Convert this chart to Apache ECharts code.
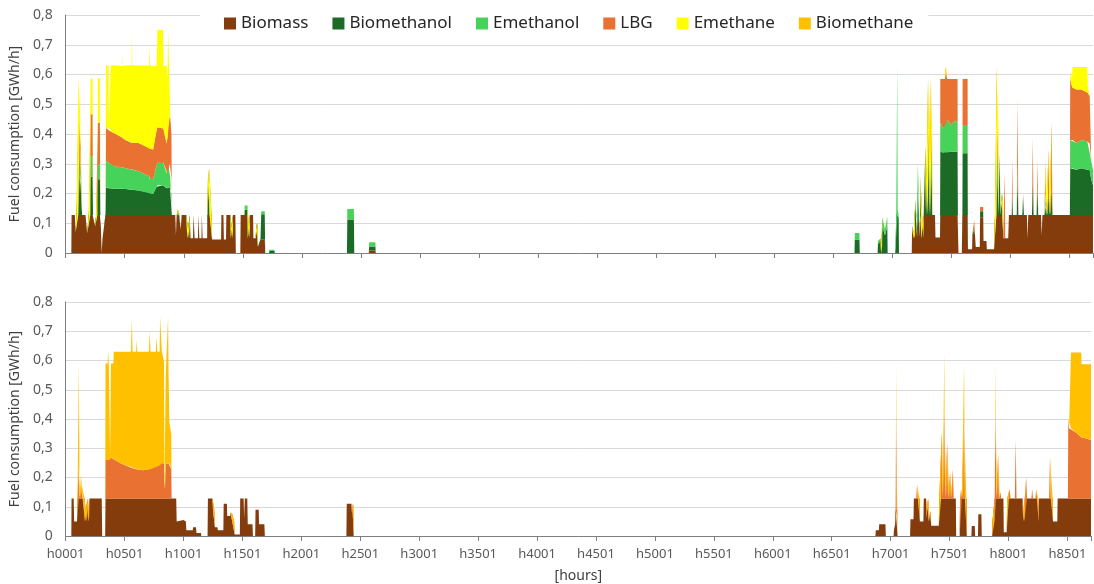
<!DOCTYPE html>
<html>
<head>
<meta charset="utf-8">
<title>Fuel consumption</title>
<script src="https://cdn.jsdelivr.net/npm/echarts@6/dist/echarts.min.js"></script>
<style>
  html, body { margin: 0; padding: 0; background: #fff; }
  #chart { width: 1094px; height: 584px; }
  #warn { position: absolute; left: 300px; top: 120px; color: red; font: 20px sans-serif; }
</style>
</head>
<body>
<div id="chart"></div>
<div id="warn"></div>
<script>
// ---- top chart (hour index, 0 = h0001) ----
const hoursTop = [
  0, 48, 50, 78, 84, 92, 106, 108, 122, 127,
  134, 140, 168, 182, 196, 208, 211, 228, 232, 250,
  258, 264, 268, 273, 290, 294, 298, 305, 312, 325,
  337, 342, 364, 367, 378, 382, 420, 476, 478, 481,
  505, 558, 561, 564, 617, 708, 712, 716, 740, 770,
  777, 825, 828, 855, 862, 868, 882, 886, 896, 899,
  928, 934, 940, 950, 958, 962, 975, 982, 1022, 1030,
  1045, 1050, 1058, 1078, 1083, 1092, 1120, 1124, 1132, 1150,
  1153, 1160, 1198, 1201, 1206, 1216, 1219, 1235, 1240, 1316,
  1319, 1336, 1340, 1358, 1361, 1395, 1399, 1414, 1417, 1437,
  1441, 1479, 1482, 1514, 1516, 1540, 1543, 1557, 1560, 1587,
  1590, 1610, 1614, 1625, 1628, 1650, 1656, 1686, 1690, 1722,
  1725, 1768, 1771, 2382, 2385, 2441, 2444, 2567, 2570, 2623,
  2626, 6680, 6683, 6722, 6725, 6876, 6879, 6902, 6905, 6913,
  6916, 6938, 6958, 6961, 7025, 7028, 7034, 7042, 7046, 7054,
  7057, 7165, 7168, 7180, 7190, 7196, 7204, 7210, 7216, 7222,
  7232, 7238, 7246, 7262, 7266, 7280, 7286, 7300, 7303, 7312,
  7315, 7324, 7327, 7336, 7339, 7362, 7366, 7404, 7407, 7430,
  7447, 7450, 7462, 7465, 7500, 7530, 7553, 7556, 7561, 7589,
  7594, 7596, 7638, 7641, 7676, 7679, 7694, 7700, 7707, 7741,
  7744, 7770, 7773, 7798, 7801, 7862, 7870, 7882, 7885, 7896,
  7899, 7910, 7916, 7925, 7935, 7940, 7952, 7957, 7982, 7988,
  8012, 8016, 8022, 8054, 8061, 8068, 8101, 8108, 8115, 8140,
  8145, 8152, 8183, 8190, 8197, 8222, 8229, 8236, 8260, 8265,
  8272, 8289, 8296, 8303, 8317, 8324, 8331, 8343, 8350, 8357,
  8504, 8507, 8522, 8526, 8560, 8600, 8652, 8656, 8672, 8685,
  8700
];
const biomassTop = [
  0, 0, .128, .128, .07, .128, .128, .128, .128, .128,
  .128, .128, .128, .066, .128, .128, .128, .128, .128, .09,
  .128, .128, .128, .128, .128, .128, .09, 0, .05, .09,
  .128, .128, .128, .128, .128, .128, .128, .128, .128, .128,
  .128, .128, .128, .128, .128, .128, .128, .128, .128, .128,
  .128, .128, .128, .128, .128, .128, .128, .128, .128, .128,
  .128, .06, .128, .128, .128, .128, .08, .128, .128, .05,
  .05, .128, .05, .05, .128, .05, .05, .128, .05, .05,
  .128, .05, .05, .128, .128, .128, .128, .128, .045, .045,
  .128, .128, .045, .045, .128, .128, .05, .05, .128, .128,
  0, 0, .128, .128, .128, .128, .05, .05, .128, .128,
  .05, .05, .10, .10, .02, .045, .045, .045, 0, 0,
  0, 0, 0, 0, 0, 0, 0, 0, .008, .008,
  0, 0, 0, 0, 0, 0, 0, 0, 0, 0,
  0, 0, 0, 0, 0, 0, 0, 0, 0, 0,
  0, 0, .09, .05, .05, .128, .128, .055, .055, .128,
  .055, .128, .05, .05, .128, .128, .128, .128, .128, .128,
  .128, .128, .128, .128, .128, .128, .052, .052, .128, .128,
  .128, .128, .128, .128, .128, .128, .128, .128, 0, 0,
  .128, .128, .128, .013, .013, .065, .065, .065, .02, .02,
  .12, .12, .04, .04, .013, .013, .128, .128, .128, .128,
  .128, .128, .128, .128, .128, .05, .05, .05, .05, .128,
  .128, .128, .128, .128, .128, .128, .128, .128, .128, .128,
  .05, .128, .128, .128, .128, .128, .128, .128, .128, .06,
  .128, .128, .128, .128, .128, .128, .128, .128, .128, .128,
  .128, .128, .128, .128, .128, .128, .128, .128, .128, .128,
  .128
];
const biomethanolTop = [
  0, 0, 0, 0, 0, 0, 0, .142, .142, .10,
  .03, 0, 0, 0, 0, 0, .128, .128, 0, 0,
  0, 0, 0, .12, .12, 0, 0, 0, 0, 0,
  0, .092, .09, .09, .09, .09, .088, .088, .088, .088,
  .087, .085, .085, .085, .082, .075, .072, .072, .07, .095,
  .10, .10, .10, .09, .09, .092, .092, .075, .07, 0,
  0, 0, 0, 0, 0, 0, 0, 0, 0, 0,
  0, 0, 0, 0, 0, 0, 0, 0, 0, 0,
  0, 0, 0, 0, .117, .117, 0, 0, 0, 0,
  0, 0, 0, 0, 0, 0, 0, 0, 0, 0,
  0, 0, 0, 0, .017, .017, 0, 0, 0, 0,
  0, 0, 0, 0, 0, 0, .085, .085, 0, 0,
  .007, .007, 0, 0, .113, .113, 0, 0, .014, .014,
  0, 0, .045, .045, 0, 0, .03, .04, 0, 0,
  .09, .06, .09, 0, 0, .02, .133, .133, .133, .12,
  0, 0, 0, 0, 0, .032, 0, 0, .165, .09,
  0, .112, 0, 0, 0, .222, 0, 0, .282, .282,
  0, 0, .262, .262, 0, 0, 0, 0, .212, .21,
  .212, .212, .212, .21, .212, .212, .212, 0, 0, 0,
  0, .207, .207, 0, 0, 0, .015, 0, 0, 0,
  .02, .02, 0, 0, 0, 0, 0, 0, .222, .222,
  0, .20, 0, .07, .07, 0, 0, 0, 0, 0,
  0, .07, 0, 0, .12, 0, 0, .06, 0, 0,
  0, 0, 0, .12, 0, 0, .09, 0, 0, 0,
  0, 0, .03, 0, 0, .07, 0, 0, .09, 0,
  0, .157, .157, .157, .152, .157, .152, .15, .15, .12,
  .10
];
const emethanolTop = [
  0, 0, 0, 0, 0, 0, 0, .08, .08, .05,
  .02, 0, 0, 0, 0, 0, .07, .07, 0, 0,
  0, 0, 0, .05, .05, 0, 0, 0, 0, 0,
  0, .09, .085, .08, .08, .08, .075, .072, .072, .072,
  .07, .068, .068, .068, .065, .055, .05, .05, .05, .07,
  .075, .078, .075, .05, .05, .08, .08, .05, .05, 0,
  0, 0, 0, .017, .017, 0, 0, 0, 0, 0,
  0, 0, 0, 0, 0, 0, 0, 0, 0, 0,
  0, 0, 0, 0, .04, .04, 0, 0, 0, 0,
  0, 0, 0, 0, 0, 0, 0, 0, 0, 0,
  0, 0, 0, 0, .015, .015, 0, 0, 0, 0,
  0, 0, 0, 0, 0, 0, .01, .01, 0, 0,
  .004, .004, 0, 0, .035, .035, 0, 0, .014, .014,
  0, 0, .022, .022, 0, 0, .01, .01, 0, 0,
  .03, .02, .032, 0, 0, .005, .01, .50, .01, .01,
  0, 0, 0, 0, 0, .02, 0, 0, .08, .02,
  0, .02, 0, 0, 0, .01, 0, 0, .09, .09,
  0, 0, .09, .09, 0, 0, 0, 0, .10, .08,
  .10, .10, .10, .11, .09, .105, .10, 0, 0, 0,
  0, .095, .095, 0, 0, 0, 0, 0, 0, 0,
  0, 0, 0, 0, 0, 0, 0, 0, .10, .10,
  0, .01, 0, 0, 0, 0, 0, 0, 0, 0,
  0, 0, 0, 0, .05, 0, 0, 0, 0, 0,
  0, 0, 0, 0, 0, 0, 0, 0, 0, 0,
  0, 0, .04, 0, 0, 0, 0, 0, 0, 0,
  0, .095, .095, .095, .09, .095, .095, .09, .09, .06,
  .05
];
const lbgTop = [
  0, 0, 0, 0, 0, 0, 0, .14, .14, .08,
  .03, 0, 0, 0, 0, 0, .14, .14, 0, 0,
  0, 0, 0, .14, .14, 0, 0, 0, 0, 0,
  0, .11, .11, .12, .12, .11, .11, .10, .10, .10,
  .095, .09, .09, .09, .095, .095, .10, .10, .10, .12,
  .12, .115, .115, .10, .12, .16, .16, .20, .15, 0,
  0, 0, 0, 0, 0, 0, 0, 0, 0, 0,
  0, 0, 0, 0, 0, 0, 0, 0, 0, 0,
  0, 0, 0, 0, 0, 0, 0, 0, 0, 0,
  0, 0, 0, 0, 0, 0, 0, 0, 0, 0,
  0, 0, 0, 0, 0, 0, 0, 0, 0, 0,
  0, 0, 0, 0, 0, 0, 0, 0, 0, 0,
  0, 0, 0, 0, 0, 0, 0, 0, 0, 0,
  0, 0, 0, 0, 0, 0, 0, 0, 0, 0,
  0, 0, 0, 0, 0, 0, 0, 0, 0, 0,
  0, 0, 0, 0, 0, 0, 0, 0, 0, 0,
  0, 0, 0, 0, 0, 0, 0, 0, .085, .085,
  0, 0, .105, .105, 0, 0, 0, 0, .145, .167,
  .145, .185, .185, .137, .155, .14, .145, 0, 0, 0,
  0, .155, .155, 0, 0, 0, .03, 0, 0, 0,
  .015, .015, 0, 0, 0, 0, 0, 0, .175, .175,
  0, 0, 0, 0, 0, 0, .22, 0, 0, 0,
  0, .12, 0, 0, .22, 0, 0, .012, 0, 0,
  0, 0, 0, .14, 0, 0, .09, 0, 0, 0,
  0, 0, .11, 0, 0, .15, 0, 0, .22, 0,
  0, .205, .18, .175, .18, .17, .165, .17, .16, 0,
  0
];
const emethaneTop = [
  0, 0, 0, 0, 0, 0, 0, .10, .10, .07,
  .02, 0, 0, 0, 0, 0, .12, .12, 0, 0,
  0, .13, 0, .15, .15, 0, 0, 0, 0, 0,
  0, .21, .217, 0, 0, .222, .23, .24, .28, .24,
  .25, .26, .37, .26, .26, .277, .35, .28, .28, .217,
  .327, .329, .21, .262, .20, .29, .29, 0, 0, 0,
  0, 0, 0, 0, 0, 0, 0, 0, 0, 0,
  0, 0, 0, 0, 0, 0, 0, 0, 0, 0,
  0, 0, 0, 0, 0, 0, 0, 0, 0, 0,
  0, 0, 0, 0, 0, 0, 0, 0, 0, 0,
  0, 0, 0, 0, 0, 0, 0, 0, 0, 0,
  0, 0, 0, 0, 0, 0, 0, 0, 0, 0,
  0, 0, 0, 0, 0, 0, 0, 0, 0, 0,
  0, 0, 0, 0, 0, 0, 0, 0, 0, 0,
  0, 0, 0, 0, 0, 0, 0, 0, 0, 0,
  0, 0, 0, 0, 0, 0, 0, 0, 0, 0,
  0, 0, 0, 0, 0, 0, 0, 0, 0, 0,
  0, 0, 0, 0, 0, 0, 0, 0, 0, 0,
  0, 0, 0, 0, 0, 0, 0, 0, 0, 0,
  0, 0, 0, 0, 0, 0, 0, 0, 0, 0,
  0, 0, 0, 0, 0, 0, 0, 0, 0, 0,
  0, 0, 0, 0, 0, 0, 0, 0, 0, 0,
  0, 0, 0, 0, 0, 0, 0, 0, 0, 0,
  0, 0, 0, 0, 0, 0, 0, 0, 0, 0,
  0, 0, 0, 0, 0, 0, 0, 0, 0, 0,
  0, .025, .025, .07, .075, .075, .085, .02, 0, 0,
  0
];

// ---- bottom chart ----
const hoursBottom = [
  0, 48, 50, 68, 72, 96, 100, 106, 112, 118,
  126, 130, 140, 144, 160, 164, 180, 184, 190, 193,
  198, 202, 306, 310, 335, 338, 356, 361, 366, 374,
  377, 381, 384, 405, 408, 470, 554, 561, 568, 598,
  603, 608, 655, 706, 713, 720, 765, 771, 777, 797,
  801, 813, 816, 834, 838, 846, 850, 865, 869, 873,
  880, 896, 899, 938, 942, 1000, 1020, 1024, 1078, 1082,
  1106, 1110, 1148, 1151, 1204, 1207, 1246, 1250, 1262, 1266,
  1288, 1291, 1338, 1341, 1368, 1371, 1395, 1398, 1410, 1414,
  1430, 1434, 1478, 1481, 1510, 1514, 1520, 1541, 1545, 1585,
  1589, 1608, 1611, 1638, 1641, 1686, 1690, 2382, 2385, 2425,
  2428, 2432, 2441, 2444, 6871, 6874, 6900, 6903, 6956, 6959,
  7025, 7028, 7038, 7042, 7047, 7052, 7056, 7059, 7165, 7168,
  7194, 7197, 7217, 7224, 7231, 7245, 7248, 7278, 7281, 7300,
  7303, 7308, 7321, 7324, 7336, 7341, 7344, 7409, 7412, 7428,
  7435, 7442, 7448, 7455, 7462, 7473, 7480, 7487, 7498, 7505,
  7512, 7521, 7528, 7535, 7553, 7556, 7586, 7589, 7592, 7598,
  7604, 7616, 7623, 7630, 7643, 7646, 7685, 7688, 7714, 7717,
  7741, 7744, 7770, 7773, 7861, 7864, 7880, 7883, 7889, 7896,
  7905, 7912, 7919, 7926, 7932, 7938, 7957, 7960, 7985, 7988,
  8003, 8010, 8017, 8054, 8061, 8068, 8120, 8124, 8134, 8138,
  8143, 8150, 8157, 8194, 8201, 8208, 8228, 8235, 8242, 8252,
  8255, 8259, 8345, 8352, 8359, 8375, 8378, 8414, 8417, 8504,
  8507, 8510, 8514, 8527, 8530, 8575, 8617, 8620, 8660, 8700
];
const biomassBottom = [
  0, 0, .128, .128, .05, .05, .128, .128, .128, .128,
  .128, .128, .128, .128, .128, .05, .05, .128, .128, .05,
  .05, .128, .128, 0, 0, .128, .128, .128, .128, .128,
  .128, .128, .128, .128, .128, .128, .128, .128, .128, .128,
  .128, .128, .128, .128, .128, .128, .128, .128, .128, .128,
  .128, .128, .128, .128, .128, .128, .128, .128, .128, .128,
  .128, .128, .128, .128, .05, .055, .05, .02, .02, .03,
  .03, .01, .01, 0, 0, .128, .128, .09, .09, .03,
  .03, .02, .02, .11, .11, .068, .068, .08, .08, .05,
  .05, .005, .005, .128, .128, .06, .128, .128, .04, .04,
  0, 0, .09, .09, .04, .04, 0, 0, .11, .11,
  .08, .11, .11, 0, 0, .02, .02, .04, .04, 0,
  0, .02, .04, .096, .096, .096, .096, 0, 0, .057,
  .057, .128, .128, .128, .128, .128, .05, .05, .128, .128,
  .06, .128, .128, .05, .085, .085, .035, .035, .128, .128,
  .128, .128, .128, .128, .128, .128, .128, .128, .128, .128,
  .128, .128, .128, .128, .128, 0, 0, .128, .128, .128,
  .128, .128, .128, .128, .128, 0, 0, .034, .034, 0,
  0, .074, .074, 0, 0, .05, .05, .128, .128, .128,
  .128, .128, .128, .128, .128, .128, .128, .013, .013, .128,
  .128, .128, .128, .128, .128, .128, .128, .05, .05, .128,
  .128, .128, .128, .128, .128, .128, .128, .128, .128, .128,
  .05, .128, .128, .128, .128, .128, .05, .05, .128, .128,
  .128, .128, .128, .128, .128, .128, .128, .128, .128, .128
];
const lbgBottom = [
  0, 0, 0, 0, 0, 0, 0, 0, .112, 0,
  0, .04, .04, 0, 0, 0, 0, 0, 0, 0,
  0, 0, 0, 0, 0, .132, .132, .132, .132, .132,
  .14, .14, .14, .135, .135, .12, .105, .105, .105, .10,
  .10, .10, .097, .10, .10, .10, .11, .11, .11, .115,
  .115, .122, .122, .12, .03, .03, .12, .12, .12, .12,
  .12, .10, 0, 0, 0, 0, 0, 0, 0, 0,
  0, 0, 0, 0, 0, 0, 0, 0, 0, 0,
  0, 0, 0, 0, 0, 0, 0, 0, 0, 0,
  0, 0, 0, 0, 0, 0, 0, 0, 0, 0,
  0, 0, 0, 0, 0, 0, 0, 0, 0, 0,
  0, 0, 0, 0, 0, 0, 0, 0, 0, 0,
  0, 0, 0, 0, .33, 0, 0, 0, 0, 0,
  0, 0, 0, .048, 0, 0, 0, 0, 0, 0,
  0, 0, 0, 0, 0, 0, 0, 0, 0, 0,
  .229, 0, 0, .302, 0, 0, .189, 0, 0, .087,
  0, 0, .099, 0, 0, 0, 0, 0, 0, .032,
  0, 0, .272, 0, 0, 0, 0, 0, 0, 0,
  0, 0, 0, 0, 0, 0, 0, 0, .302, 0,
  0, .152, 0, 0, .022, 0, 0, 0, 0, 0,
  0, .032, 0, 0, .202, 0, 0, 0, 0, 0,
  0, .072, 0, 0, .032, 0, 0, .032, 0, 0,
  0, 0, 0, .142, 0, 0, 0, 0, 0, 0,
  .246, .27, .24, .24, .24, .225, .21, .21, .205, .20
];
const biomethaneBottom = [
  0, 0, 0, 0, 0, 0, 0, 0, .35, 0,
  0, .04, .04, 0, 0, 0, 0, 0, 0, 0,
  0, 0, 0, 0, 0, .33, .33, .37, .33, .33,
  0, 0, .322, .327, .367, .382, .397, .507, .397, .402,
  .442, .402, .405, .402, .472, .402, .392, .442, .392, .387,
  .507, .50, .38, .35, .01, .01, .312, .312, .502, .312,
  .14, .12, 0, 0, 0, 0, 0, 0, 0, 0,
  0, 0, 0, 0, 0, 0, 0, 0, 0, 0,
  0, 0, 0, 0, 0, 0, 0, 0, 0, 0,
  0, 0, 0, 0, 0, 0, 0, 0, 0, 0,
  0, 0, 0, 0, 0, 0, 0, 0, 0, 0,
  0, 0, 0, 0, 0, 0, 0, 0, 0, 0,
  0, 0, 0, 0, .16, 0, 0, 0, 0, 0,
  0, 0, 0, 0, 0, 0, 0, 0, 0, 0,
  0, 0, 0, 0, 0, 0, 0, 0, 0, 0,
  0, 0, 0, .197, 0, 0, 0, 0, 0, 0,
  0, 0, 0, 0, 0, 0, 0, 0, 0, 0,
  0, 0, .187, 0, 0, 0, 0, 0, 0, 0,
  0, 0, 0, 0, 0, 0, 0, 0, .157, 0,
  0, 0, 0, 0, 0, 0, 0, 0, 0, 0,
  0, 0, 0, 0, 0, 0, 0, 0, 0, 0,
  0, 0, 0, 0, 0, 0, 0, 0, 0, 0,
  0, 0, 0, 0, 0, 0, 0, 0, 0, 0,
  0, 0, 0, 0, .259, .274, .289, .249, .254, .259
];

const legendNames = ['Biomass', 'Biomethanol', 'Emethanol', 'LBG', 'Emethane', 'Biomethane'];
const colors = {
    Biomass: '#843c0c',
    Biomethanol: '#1b6b27',
    Emethanol: '#47d35a',
    LBG: '#e97132',
    Emethane: '#ffff00',
    Biomethane: '#ffc000',
};

// quick length check while tuning
const bad = [];
[['biomassTop', biomassTop], ['biomethanolTop', biomethanolTop], ['emethanolTop', emethanolTop],
 ['lbgTop', lbgTop], ['emethaneTop', emethaneTop]].forEach(([n, a]) => { if (a.length !== hoursTop.length) bad.push(n + ' ' + a.length); });
[['biomassBottom', biomassBottom], ['lbgBottom', lbgBottom], ['biomethaneBottom', biomethaneBottom]]
    .forEach(([n, a]) => { if (a.length !== hoursBottom.length) bad.push(n + ' ' + a.length); });
if (bad.length) document.getElementById('warn').textContent = 'LEN ' + hoursTop.length + '/' + hoursBottom.length + ': ' + bad.join(', ');

// value first, hour second: with two value axes echarts stacks the first
// numeric dimension, so the fuel value has to come first
function area(name, hours, values, idx) {
    return {
        name: name,
        type: 'line',
        xAxisIndex: idx,
        yAxisIndex: idx,
        stack: 'fuel' + idx,
        data: hours.map((h, i) => [values[i], h]),
        encode: { x: 1, y: 0 },
        symbol: 'none',
        smooth: false,
        silent: true,
        animation: false,
        lineStyle: { width: 0, opacity: 0 },
        areaStyle: { color: colors[name], opacity: 1 },
        itemStyle: { color: colors[name] },
    };
}

function xAxis(idx, withLabels) {
    return {
        type: 'value',
        gridIndex: idx,
        min: 0,
        max: 8700,
        interval: 500,
        axisLine: { show: true, lineStyle: { color: '#7f7f7f', width: 1 } },
        axisTick: { show: true, length: 5, lineStyle: { color: '#7f7f7f' } },
        splitLine: { show: false },
        axisLabel: {
            show: withLabels,
            margin: 12,
            fontSize: 13,
            color: '#595959',
            formatter: (v) => (v % 500 === 0 ? 'h' + String(v + 1).padStart(4, '0') : ''),
        },
        name: withLabels ? '[hours]' : '',
        nameLocation: 'middle',
        nameGap: 33,
        nameTextStyle: { fontSize: 14, color: '#404040' },
    };
}

function yAxis(idx) {
    return {
        type: 'value',
        gridIndex: idx,
        min: 0,
        max: 0.8,
        interval: 0.1,
        axisLine: { show: true, lineStyle: { color: '#7f7f7f' } },
        axisTick: { show: false },
        splitLine: { lineStyle: { color: '#d9d9d9', width: 1 } },
        axisLabel: {
            margin: 13,
            fontSize: 14,
            color: '#595959',
            formatter: (v) => (v === 0 ? '0' : v.toFixed(1).replace('.', ',')),
        },
        name: 'Fuel consumption [GWh/h]',
        nameLocation: 'middle',
        nameGap: 36,
        nameTextStyle: { fontSize: 14, color: '#404040' },
    };
}

const chart = echarts.init(document.getElementById('chart'));
chart.setOption({
    animation: false,
    backgroundColor: '#fff',
    textStyle: { fontFamily: 'Noto Sans' },
    legend: {
        data: legendNames,
        left: 200,
        top: 11,
        padding: [4, 15, 4, 24],
        backgroundColor: '#fff',
        icon: 'rect',
        itemWidth: 12,
        itemHeight: 12,
        itemGap: 24,
        textStyle: { fontSize: 17, color: '#262626' },
        selectedMode: false,
        z: 10,
    },
    grid: [
        { left: 60, right: 1, top: 15, height: 238 },
        { left: 60, right: 1, top: 302, height: 235 },
    ],
    xAxis: [xAxis(0, false), xAxis(1, true)],
    yAxis: [yAxis(0), yAxis(1)],
    series: [
        area('Biomass', hoursTop, biomassTop, 0),
        area('Biomethanol', hoursTop, biomethanolTop, 0),
        area('Emethanol', hoursTop, emethanolTop, 0),
        area('LBG', hoursTop, lbgTop, 0),
        area('Emethane', hoursTop, emethaneTop, 0),
        area('Biomass', hoursBottom, biomassBottom, 1),
        area('LBG', hoursBottom, lbgBottom, 1),
        area('Biomethane', hoursBottom, biomethaneBottom, 1),
    ],
});
</script>
</body>
</html>
